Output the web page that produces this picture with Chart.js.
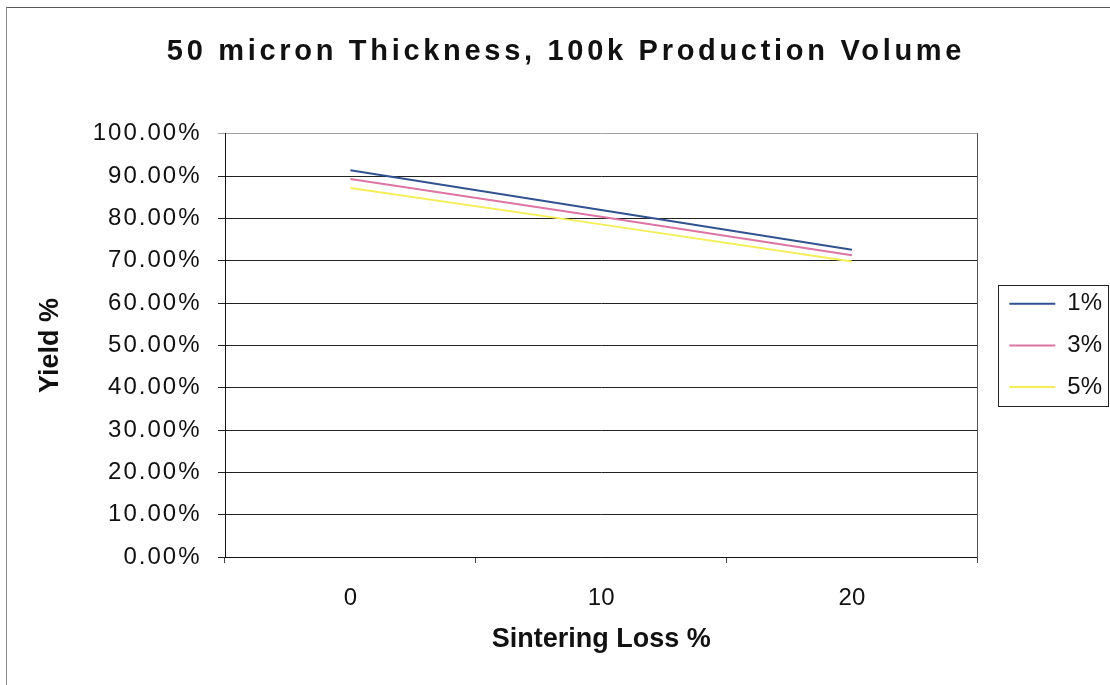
<!DOCTYPE html>
<html>
<head>
<meta charset="utf-8">
<title>50 micron Thickness, 100k Production Volume</title>
<script src="https://cdn.jsdelivr.net/npm/chart.js@4/dist/chart.umd.min.js"></script>
<style>
  html, body { margin: 0; padding: 0; background: #fff; }
  #wrap { position: relative; width: 1110px; height: 685px; overflow: hidden; }
  #chart { position: absolute; left: 0; top: 0; }
  #frame {
    position: absolute; left: 6px; top: 7px; right: -2px; bottom: -2px;
    border-left: 1px solid #8a8a8a; border-top: 1px solid #5a5a5a;
    pointer-events: none;
  }
</style>
</head>
<body>
<div id="wrap">
  <canvas id="chart" width="1110" height="685"></canvas>
  <div id="frame"></div>
</div>
<script>
// Sintering loss categories (x axis)
const sinteringLoss = ['0', '10', '20'];

// Yield (%) for each defect rate series
const yield1 = [91.4, 82.0, 72.6];
const yield3 = [89.3, 80.4, 71.3];
const yield5 = [87.2, 78.6, 69.8];

const seriesNames = ['1%', '3%', '5%'];

const FONT = "'Liberation Sans', Arial, Helvetica, sans-serif";
const TEXT = '#111';

// Wraps a drawing method so its text is rendered with extra letter spacing.
function withSpacing(obj, method, spacing) {
  if (!obj || obj['__spaced_' + method]) return;
  const orig = obj[method];
  obj[method] = function (...args) {
    const ctx = this.ctx;
    ctx.save();
    ctx.letterSpacing = spacing;
    const r = orig.apply(this, args);
    ctx.restore();
    return r;
  };
  obj['__spaced_' + method] = true;
}

const spacedText = {
  id: 'spacedText',
  beforeDraw(chart) {
    withSpacing(chart.titleBlock, 'draw', '3.7px');
    withSpacing(chart.scales.y, 'drawLabels', '2px');
  }
};

// Thin frame around the legend entries
const legendFrame = {
  id: 'legendFrame',
  afterDraw(chart) {
    const lg = chart.legend;
    if (!lg || !lg.legendHitBoxes || !lg.legendHitBoxes.length) return;
    const boxes = lg.legendHitBoxes;
    let l = Infinity, t = Infinity, r = -Infinity, b = -Infinity;
    boxes.forEach(h => {
      l = Math.min(l, h.left); t = Math.min(t, h.top);
      r = Math.max(r, h.left + h.width); b = Math.max(b, h.top + h.height);
    });
    const ctx = chart.ctx;
    ctx.save();
    ctx.strokeStyle = '#222';
    ctx.lineWidth = 1;
    ctx.strokeRect(Math.round(l - 11) + 0.5, Math.round(t - 7) + 0.5,
                   Math.round(r - l + 17), Math.round(b - t + 14));
    ctx.restore();
  }
};

new Chart(document.getElementById('chart'), {
  type: 'line',
  data: {
    labels: sinteringLoss,
    datasets: [
      { label: seriesNames[0], data: yield1, borderColor: '#32538f', backgroundColor: '#32538f' },
      { label: seriesNames[1], data: yield3, borderColor: '#dc74a4', backgroundColor: '#dc74a4' },
      { label: seriesNames[2], data: yield5, borderColor: '#f4ee58', backgroundColor: '#f4ee58' }
    ]
  },
  options: {
    responsive: false,
    devicePixelRatio: 1,
    animation: false,
    elements: {
      line: { borderWidth: 2, tension: 0 },
      point: { radius: 0, hoverRadius: 0 }
    },
    layout: { padding: { left: 20, right: -2, top: 0, bottom: 0 } },
    plugins: {
      tooltip: { enabled: false },
      title: {
        display: true,
        text: '50 micron Thickness, 100k Production Volume',
        color: TEXT,
        font: { family: FONT, size: 29, weight: 'bold' },
        padding: { top: 35, bottom: 64 }
      },
      legend: {
        position: 'right',
        fullSize: false,
        labels: {
          color: TEXT,
          font: { family: FONT, size: 24 },
          boxWidth: 46,
          boxHeight: 0,
          padding: 17.7
        }
      }
    },
    scales: {
      x: {
        type: 'category',
        offset: true,
        grid: {
          display: true,
          drawOnChartArea: false,
          drawTicks: true,
          tickLength: 6,
          offset: true,
          color: '#444'
        },
        border: { display: true, color: '#111', width: 1 },
        ticks: {
          color: TEXT,
          font: { family: FONT, size: 24 },
          padding: 20.6,
          maxRotation: 0
        },
        title: {
          display: true,
          text: 'Sintering Loss %',
          color: TEXT,
          font: { family: FONT, size: 27, weight: 'bold' },
          padding: { top: 11.4, bottom: 28.8 }
        },
        afterFit: s => { s.height = 128; }
      },
      y: {
        min: 0,
        max: 100,
        grid: {
          color: c => (c.tick && c.tick.value === 100) ? '#a0a0a0' : '#222',
          lineWidth: 1,
          drawTicks: true,
          tickLength: 7
        },
        border: { display: true, color: '#111', width: 1 },
        ticks: {
          stepSize: 10,
          color: TEXT,
          font: { family: FONT, size: 24 },
          padding: 16.5,
          callback: v => v.toFixed(2) + '%'
        },
        title: {
          display: true,
          text: 'Yield %',
          color: TEXT,
          font: { family: FONT, size: 27, weight: 'bold' },
          padding: { top: 14, bottom: 0 }
        },
        afterFit: s => { s.width = 205; }
      },
      yEdge: {
        type: 'linear',
        position: 'right',
        grid: { display: true, drawOnChartArea: false, drawTicks: false },
        border: { display: true, color: '#555', width: 1 },
        ticks: { display: false },
        afterFit: s => { s.width = 14.3; }
      }
    }
  },
  plugins: [spacedText, legendFrame]
});
</script>
</body>
</html>
